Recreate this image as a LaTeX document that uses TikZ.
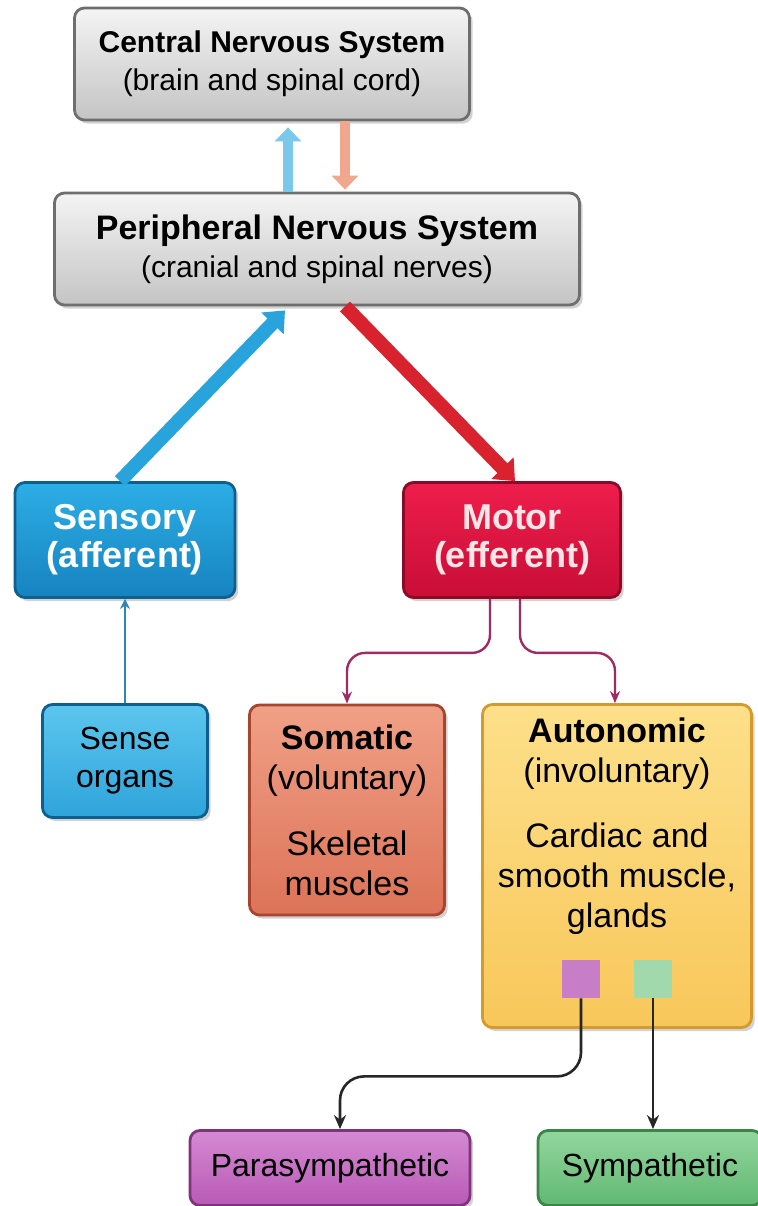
\documentclass[tikz,border=0pt]{standalone}
\usepackage{fontspec}
\setmainfont{Liberation Sans}
\usetikzlibrary{arrows.meta,shadows}

\definecolor{grayhi}{HTML}{F4F4F4}
\definecolor{graylo}{HTML}{C4C4C4}
\definecolor{grayrim}{HTML}{6E6E6E}
\definecolor{senshi}{HTML}{2DAEE6}
\definecolor{senslo}{HTML}{1683BF}
\definecolor{sensrim}{HTML}{0D5F8E}
\definecolor{organhi}{HTML}{5CC6EE}
\definecolor{organlo}{HTML}{2EA4DA}
\definecolor{motorhi}{HTML}{EE1D4C}
\definecolor{motorlo}{HTML}{C80E36}
\definecolor{motorrim}{HTML}{8C0A26}
\definecolor{somahi}{HTML}{F0A086}
\definecolor{somalo}{HTML}{DC7358}
\definecolor{somarim}{HTML}{A8452F}
\definecolor{autohi}{HTML}{FDE08A}
\definecolor{autolo}{HTML}{F8C75A}
\definecolor{autorim}{HTML}{D39B2E}
\definecolor{parahi}{HTML}{D58AD3}
\definecolor{paralo}{HTML}{B85AB5}
\definecolor{pararim}{HTML}{7E337B}
\definecolor{symphi}{HTML}{92D69E}
\definecolor{symplo}{HTML}{62B873}
\definecolor{symprim}{HTML}{3A8548}
\definecolor{arrowblue}{HTML}{29A3DB}
\definecolor{arrowred}{HTML}{D8232F}
\definecolor{lightblue}{HTML}{7CC8EC}
\definecolor{peach}{HTML}{F0A78D}
\definecolor{branchpink}{HTML}{9E2C62}
\definecolor{sensline}{HTML}{2E86B5}
\definecolor{sqpurple}{HTML}{C87DC7}
\definecolor{sqgreen}{HTML}{A2D9AC}

\begin{document}
\begin{tikzpicture}[x=0.5pt,y=-0.5pt,
  box/.style={draw,rounded corners=5pt,line width=1.4pt,align=center,inner sep=0pt,
    drop shadow={shadow xshift=1.6pt,shadow yshift=-1.8pt,opacity=.35}},
  graybox/.style={box,top color=grayhi,bottom color=graylo,draw=grayrim},
  sensbox/.style={box,top color=senshi,bottom color=senslo,draw=sensrim},
  organbox/.style={box,top color=organhi,bottom color=organlo,draw=sensrim},
  motorbox/.style={box,top color=motorhi,bottom color=motorlo,draw=motorrim},
  somabox/.style={box,top color=somahi,bottom color=somalo,draw=somarim},
  autobox/.style={box,top color=autohi,bottom color=autolo,draw=autorim},
  parabox/.style={box,top color=parahi,bottom color=paralo,draw=pararim},
  sympbox/.style={box,top color=symphi,bottom color=symplo,draw=symprim},
  bigarrow/.style={line width=7pt,-{Triangle[length=9pt,width=15pt]}},
  smallarrow/.style={line width=5pt,-{Triangle[length=7pt,width=13pt]}},
  branch/.style={draw=branchpink,line width=1.2pt,rounded corners=9pt,-{Stealth[length=6pt,width=5pt]}},
  darkline/.style={draw=black!85,line width=1.3pt,rounded corners=12pt,-{Stealth[length=7pt,width=6pt]}}]

\useasboundingbox[fill=white] (0,0) rectangle (757,1206);

% top two boxes
\node[graybox,minimum width=197.5pt,minimum height=56pt,
  font=\fontsize{15}{19}\selectfont] (cns) at (272,64)
  {\textbf{Central Nervous System}\\(brain and spinal cord)};
\node[graybox,minimum width=262.5pt,minimum height=56pt,
  font=\fontsize{17}{19}\selectfont] (pns) at (317,249)
  {\textbf{Peripheral Nervous System}\\{\fontsize{15}{19}\selectfont(cranial and spinal nerves)}};

\draw[smallarrow,lightblue] ([xshift=-14.5pt]pns.north) -- ([xshift=8pt,yshift=-3pt]cns.south);
\draw[smallarrow,peach] ([xshift=36.5pt]cns.south) -- ([xshift=14pt,yshift=1pt]pns.north);

% sensory and motor
\node[sensbox,minimum width=110pt,minimum height=57.5pt,text=white,
  font=\fontsize{18}{19}\selectfont\bfseries] (sensory) at (125,540) {Sensory\\(afferent)};
\node[motorbox,minimum width=108.5pt,minimum height=57.5pt,text=pink!40,
  font=\fontsize{18}{19}\selectfont\bfseries] (motor) at (512,540) {Motor\\(efferent)};

\draw[bigarrow,arrowblue] ([xshift=-2.5pt]sensory.north) -- ([xshift=-16pt,yshift=-2pt]pns.south);
\draw[bigarrow,arrowred] ([xshift=14pt]pns.south) -- ([xshift=1.5pt]motor.north);

% lower row
\node[organbox,minimum width=82.5pt,minimum height=56.5pt,
  font=\fontsize{16}{19}\selectfont] (organs) at (125,761) {Sense\\organs};
\node[somabox,minimum width=97.5pt,minimum height=105pt,
  font=\fontsize{17}{20}\selectfont] (somatic) at (347,810)
  {\textbf{Somatic}\\(voluntary)\\[13pt]Skeletal\\muscles};
\node[autobox,minimum width=134.5pt,minimum height=161.5pt] (auto) at (617,866) {};
\node[anchor=north,align=center,inner sep=0pt,font=\fontsize{17}{20}\selectfont] (autotext)
  at ([yshift=-7pt]auto.north)
  {\textbf{Autonomic}\\(involuntary)\\[12.5pt]Cardiac and\\smooth muscle,\\glands};
\node[fill=sqpurple,minimum size=19pt,inner sep=0pt] (psq) at (581,979) {};
\node[fill=sqgreen,minimum size=19pt,inner sep=0pt] (gsq) at (653,979) {};

\draw[sensline,line width=1.2pt,-{Stealth[length=5pt,width=5pt]}] (organs.north) -- (sensory.south);

\draw[branch] ([xshift=-11pt]motor.south) -- ++(0,54) -| (somatic.north);
\draw[branch] ([xshift=4pt]motor.south) -- ++(0,54) -| ([xshift=-1pt]auto.north);

% bottom boxes
\node[parabox,minimum width=140pt,minimum height=37.5pt,
  font=\fontsize{16}{19}\selectfont] (para) at (330,1168) {Parasympathetic};
\node[sympbox,minimum width=112pt,minimum height=37.5pt,
  font=\fontsize{16}{19}\selectfont] (symp) at (650,1168) {Sympathetic};

\draw[darkline] (psq.south) -- ++(0,78) -| ([xshift=5pt]para.north);
\draw[darkline] (gsq.south) -- (gsq.south |- para.north);
\end{tikzpicture}
\end{document}
